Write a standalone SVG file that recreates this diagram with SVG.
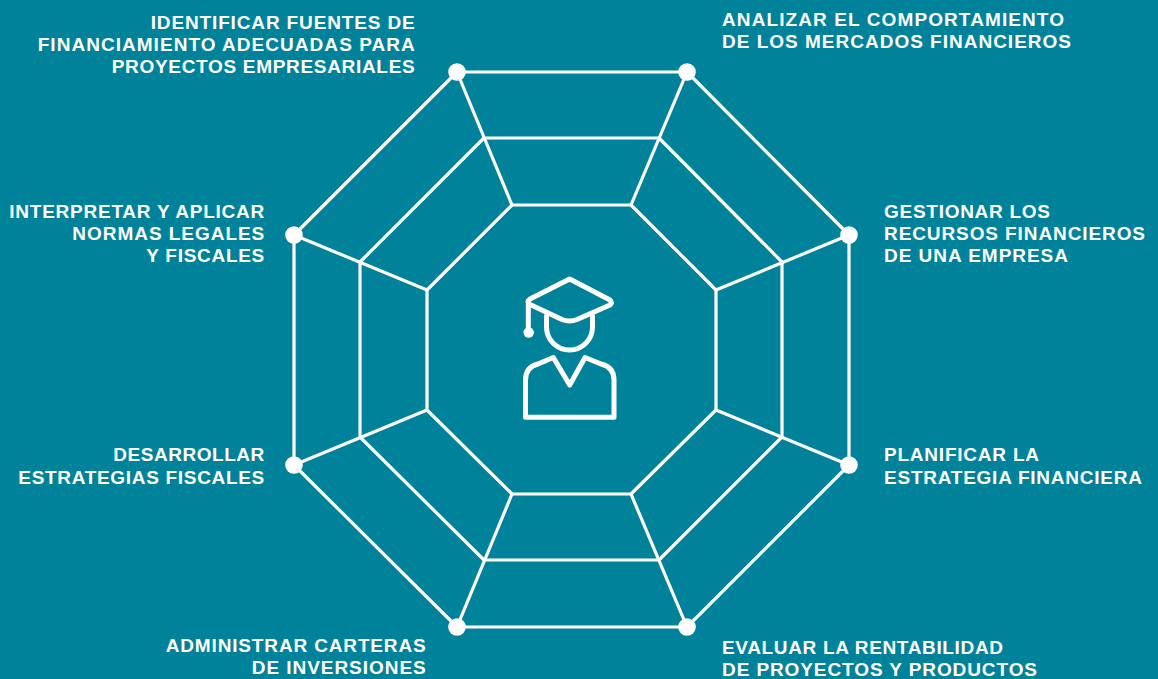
<svg xmlns="http://www.w3.org/2000/svg" width="1158" height="679" viewBox="0 0 1158 679">
<style>
.l{fill:none;stroke:#fff;stroke-width:3.2;stroke-linejoin:round;stroke-linecap:round}
.i{fill:none;stroke:#fff;stroke-width:5;stroke-linejoin:round;stroke-linecap:round}
.d{fill:#fff}
text{font-family:"Liberation Sans",Arial,sans-serif;font-weight:700;font-size:19px;fill:#fff}
.e{text-anchor:end}
</style>
<rect width="1158" height="679" fill="#00829b"/>
<g id="connectors">
<polygon class="l" points="457,72 687,72 849,235 849,465 687,627 457,627 294,465 294,235"/>
<polygon class="l" points="484,138 659,138 782,262 782,437 659,560 484,560 360,437 360,262"/>
<polygon class="l" points="512,205 631,205 716,290 716,410 631,494 512,494 427,410 427,290"/>
<path class="l" d="M457 72L512 205M687 72L631 205M849 235L716 290M849 465L716 410M687 627L631 494M457 627L512 494M294 465L427 410M294 235L427 290"/>
</g>
<g id="icon">
<path class="i" d="M569.7 279L610 300Q612.5 302.5 610 305L577 319.5Q569.7 322.5 562 319.5L530 304.5Q526 301.5 530 299Z"/>
<path class="i" d="M528.3 301V330"/>
<circle class="d" cx="528.7" cy="332.5" r="5.2"/>
<path class="i" d="M546.5 316V327a23 23 0 0 0 46 0V316"/>
<path class="i" d="M525.5 417.3V380Q525.5 367 538 364L553.3 357.5L569.7 385L585 357.5L601 364Q614 367 614 380V417.3Z"/>
</g>
<g id="n1"><circle class="d" cx="457" cy="72" r="8.8"/>
<text class="e" x="414.7" y="29" textLength="264">IDENTIFICAR FUENTES DE</text>
<text class="e" x="414.7" y="51" textLength="377">FINANCIAMIENTO ADECUADAS PARA</text>
<text class="e" x="414.7" y="73" textLength="303">PROYECTOS EMPRESARIALES</text></g>
<g id="n2"><circle class="d" cx="687" cy="72" r="8.8"/>
<text x="722" y="26" textLength="342">ANALIZAR EL COMPORTAMIENTO</text>
<text x="722" y="48" textLength="349">DE LOS MERCADOS FINANCIEROS</text></g>
<g id="n3"><circle class="d" cx="849" cy="235" r="8.8"/>
<text x="884" y="217.5" textLength="166">GESTIONAR LOS</text>
<text x="884" y="239.5" textLength="261">RECURSOS FINANCIEROS</text>
<text x="884" y="262" textLength="184">DE UNA EMPRESA</text></g>
<g id="n4"><circle class="d" cx="849" cy="465" r="8.8"/>
<text x="884" y="461" textLength="155">PLANIFICAR LA</text>
<text x="884" y="483.5" textLength="258">ESTRATEGIA FINANCIERA</text></g>
<g id="n5"><circle class="d" cx="687" cy="627" r="8.8"/>
<text x="722" y="653.5" textLength="281">EVALUAR LA RENTABILIDAD</text>
<text x="722" y="675.5" textLength="315">DE PROYECTOS Y PRODUCTOS</text></g>
<g id="n6"><circle class="d" cx="457" cy="627" r="8.8"/>
<text class="e" x="425.7" y="652" textLength="260">ADMINISTRAR CARTERAS</text>
<text class="e" x="425.7" y="674" textLength="174">DE INVERSIONES</text></g>
<g id="n7"><circle class="d" cx="294" cy="465" r="8.8"/>
<text class="e" x="264.3" y="461" textLength="151">DESARROLLAR</text>
<text class="e" x="264.3" y="483.5" textLength="246">ESTRATEGIAS FISCALES</text></g>
<g id="n8"><circle class="d" cx="294" cy="235" r="8.8"/>
<text class="e" x="264.3" y="217.5" textLength="255">INTERPRETAR Y APLICAR</text>
<text class="e" x="264.3" y="239.5" textLength="192">NORMAS LEGALES</text>
<text class="e" x="264.3" y="262" textLength="118">Y FISCALES</text></g>
</svg>
